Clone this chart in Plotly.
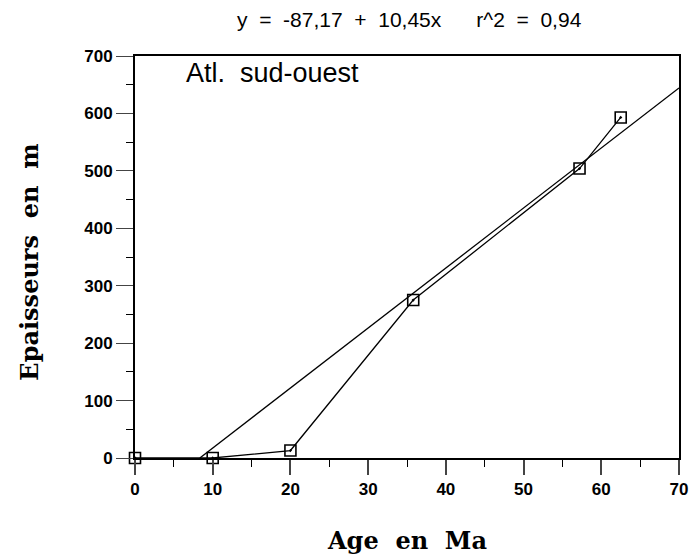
import plotly.graph_objects as go

age = [0, 10, 20, 35.8, 57.2, 62.5]
epaisseur = [0, 0, 13, 275, 504, 593]
intercept = -87.17
slope = 10.45
fit_x = [-intercept / slope, 70]
fit_y = [intercept + slope * x for x in fit_x]

x_ticks = [0, 10, 20, 30, 40, 50, 60, 70]
y_ticks = [0, 100, 200, 300, 400, 500, 600, 700]

fig = go.Figure()
fig.add_trace(go.Scatter(x=fit_x, y=fit_y, mode="lines",
                         line=dict(color="black", width=1.3), showlegend=False))
fig.add_trace(go.Scatter(x=age, y=epaisseur, mode="lines+markers",
                         line=dict(color="black", width=1.3),
                         marker=dict(symbol="square-open-dot", size=11, color="black",
                                     line=dict(width=1.6)),
                         showlegend=False, cliponaxis=False))

tickfont = dict(family="Liberation Sans", size=17, color="black", weight="bold")
fig.update_xaxes(range=[0, 70], tickvals=x_ticks, ticks="outside", ticklen=15, tickwidth=1.6,
                 showline=True, linecolor="black", linewidth=2, mirror=True, showgrid=False,
                 zeroline=False, tickfont=tickfont,
                 minor=dict(dtick=5, ticks="outside", ticklen=7, tickcolor="black", tickwidth=1.3))
fig.update_yaxes(range=[0, 700], tickvals=y_ticks, ticks="outside", ticklen=17, tickwidth=1.3,
                 showline=True, linecolor="black", linewidth=2, mirror=True, showgrid=False,
                 zeroline=False, tickfont=tickfont,
                 minor=dict(dtick=50, ticks="outside", ticklen=7, tickcolor="black", tickwidth=1))

fig.add_annotation(x=0.5, xref="paper", y=-0.205, yref="paper", yanchor="middle",
                   text="<b>Age  en  Ma</b>", showarrow=False,
                   font=dict(family="DejaVu Serif", size=24, color="black"))
fig.add_annotation(x=-0.193, xref="paper", y=0.486, yref="paper", xanchor="center", yanchor="middle",
                   text="<b>Epaisseurs  en  m</b>", showarrow=False, textangle=-90,
                   font=dict(family="DejaVu Serif", size=24, color="black"))
fig.add_annotation(x=0.505, xref="paper", y=1.09, yref="paper", yanchor="middle",
                   text="y  =  -87,17  +  10,45x      r^2  =  0,94", showarrow=False,
                   font=dict(family="Liberation Sans", size=21, color="black"))
fig.add_annotation(x=0.09, xref="paper", y=0.958, yref="paper", xanchor="left", yanchor="middle",
                   text="Atl.  sud-ouest", showarrow=False,
                   font=dict(family="Liberation Sans", size=27, color="black"))

fig.update_layout(width=696, height=557, margin=dict(l=135, r=8, t=56, b=99),
                  plot_bgcolor="white", paper_bgcolor="white")
fig.write_html("out.html")
